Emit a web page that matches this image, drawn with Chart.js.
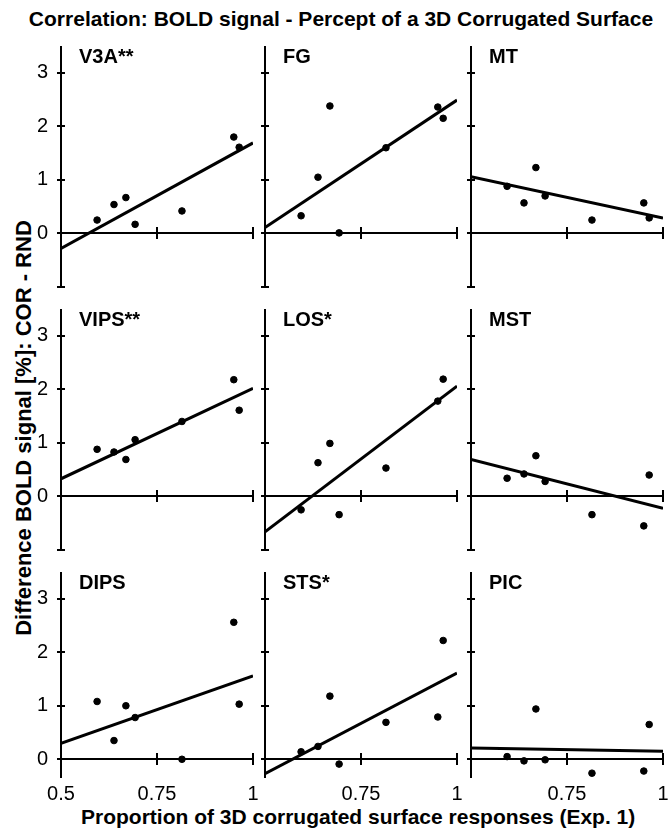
<!DOCTYPE html>
<html>
<head>
<meta charset="utf-8">
<title>Correlation: BOLD signal - Percept of a 3D Corrugated Surface</title>
<script src="https://cdn.jsdelivr.net/npm/chart.js@4.4.1/dist/chart.umd.min.js"></script>
<style>
  body { margin: 0; background: #fff; font-family: 'Liberation Sans', Arial, sans-serif; }
  #fig { position: relative; width: 670px; height: 831px; overflow: hidden; background: #fff; }
  .txt { position: absolute; font-weight: bold; line-height: 1; white-space: nowrap; color: #000; }
  canvas { position: absolute; }
</style>
</head>
<body>
<div id="fig">
  <div class="txt" style="font-size:21px; left:341px; top:8px; transform:translateX(-50%)">Correlation: BOLD signal - Percept of a 3D Corrugated Surface</div>
  <div class="txt" style="font-size:21px; left:81px; top:806px">Proportion of 3D corrugated surface responses (Exp. 1)</div>
  <div class="txt" style="font-size:22px; left:24px; top:428px; transform:translate(-50%,-50%) rotate(-90deg)">Difference BOLD signal [%]: COR - RND</div>
</div>
<script>
// proportion of 3D responses per subject (same for every region)
const proportions = [0.594, 0.638, 0.669, 0.693, 0.815, 0.950, 0.964];

const regions = ['V3A**', 'FG', 'MT', 'VIPS**', 'LOS*', 'MST', 'DIPS', 'STS*', 'PIC'];

// BOLD difference (COR - RND) per subject, in the order of proportions
const v3a  = [0.25, 0.54, 0.67, 0.17, 0.42, 1.80, 1.61];
const fg   = [0.33, 1.05, 2.38, 0.01, 1.60, 2.36, 2.15];
const mt   = [0.88, 0.57, 1.23, 0.70, 0.25, 0.57, 0.29];
const vips = [0.88, 0.83, 0.69, 1.06, 1.40, 2.18, 1.61];
const los  = [-0.25, 0.63, 0.99, -0.34, 0.53, 1.78, 2.19];
const mst  = [0.34, 0.42, 0.76, 0.28, -0.34, -0.55, 0.40];
const dips = [1.08, 0.35, 1.00, 0.78, 0.00, 2.56, 1.03];
const sts  = [0.14, 0.24, 1.18, -0.09, 0.69, 0.79, 2.22];
const pic  = [0.05, -0.03, 0.94, -0.01, -0.26, -0.22, 0.65];
const boldValues = [v3a, fg, mt, vips, los, mst, dips, sts, pic];

// regression line: value at x = 0.5 and at x = 1
const fitStart = [-0.28, 0.11, 1.06, 0.33, -0.66, 0.69, 0.30, -0.27, 0.21];
const fitEnd   = [1.69, 2.49, 0.29, 2.02, 2.06, -0.22, 1.56, 1.61, 0.15];

const xTicks = [0.5, 0.75, 1];
const yTicks = [0, 1, 2, 3];
const yBottom = [-1, -1, -0.35]; // per row
const yTop = 3.5;

// layout of the 3x3 grid (pixels)
const colX = [61, 265, 471];
const rowTop = [46, 309, 572];
const rowH = [241, 241, 206];
const plotW = 192;
const PAD = 12, LEFT = 50, BOTTOM = 35;
const FONT = "'Liberation Sans', Arial, sans-serif";

// axes cross at x = 0.5 / y = 0, with ticks on both sides of the line
const crossAxes = {
  id: 'crossAxes',
  afterDatasetsDraw(chart) {
    const { ctx, scales: { x, y } } = chart;
    const px = v => Math.round(x.getPixelForValue(v));
    const py = v => Math.round(y.getPixelForValue(v));
    const x0 = px(0.5), x1 = px(1), y0 = py(0);
    ctx.save();
    ctx.strokeStyle = '#000';
    ctx.lineWidth = 2;
    ctx.lineCap = 'butt';
    ctx.beginPath();
    ctx.moveTo(x0, py(y.max));
    ctx.lineTo(x0, py(y.min));
    ctx.moveTo(x0 - 1, y0);
    ctx.lineTo(x1, y0);
    const marks = yTicks.concat(y.min <= -1 ? [-1] : []);
    marks.forEach(v => {
      ctx.moveTo(x0 - 4, py(v));
      ctx.lineTo(x0 + 4, py(v));
    });
    xTicks.filter(v => v > 0.5).forEach(v => {
      ctx.moveTo(px(v), y0 - 6);
      ctx.lineTo(px(v), y0 + 6);
    });
    ctx.stroke();
    ctx.restore();
  }
};

const fig = document.getElementById('fig');

regions.forEach((name, i) => {
  const row = Math.floor(i / 3), col = i % 3;
  const h = rowH[row];

  const canvas = document.createElement('canvas');
  canvas.width = LEFT + plotW + PAD;
  canvas.height = PAD + h + BOTTOM;
  canvas.style.left = (colX[col] - LEFT) + 'px';
  canvas.style.top = (rowTop[row] - PAD) + 'px';
  fig.appendChild(canvas);

  const label = document.createElement('div');
  label.className = 'txt';
  label.style.fontSize = '20px';
  label.style.left = (colX[col] + 18) + 'px';
  label.style.top = rowTop[row] + 'px';
  label.textContent = name;
  fig.appendChild(label);

  const points = proportions.map((p, k) => ({ x: p, y: boldValues[i][k] }));

  new Chart(canvas.getContext('2d'), {
    type: 'scatter',
    data: {
      datasets: [
        {
          type: 'line',
          data: [{ x: 0.5, y: fitStart[i] }, { x: 1, y: fitEnd[i] }],
          borderColor: '#000',
          borderWidth: 3,
          pointRadius: 0,
          fill: false,
        },
        {
          data: points,
          backgroundColor: '#000',
          borderColor: '#000',
          pointRadius: 3.3,
          pointHoverRadius: 3.3,
        },
      ],
    },
    options: {
      responsive: false,
      animation: false,
      events: [],
      layout: { padding: { left: 0, top: PAD, right: PAD, bottom: 0 } },
      plugins: { legend: { display: false }, tooltip: { enabled: false } },
      scales: {
        x: {
          type: 'linear',
          min: 0.5,
          max: 1,
          afterBuildTicks: s => { s.ticks = xTicks.map(v => ({ value: v })); },
          afterFit: s => {
            s.height = BOTTOM;
            s.paddingLeft = s.paddingRight = s.paddingTop = s.paddingBottom = 0;
          },
          grid: { display: false, drawTicks: false },
          border: { display: false },
          ticks: {
            display: row === 2,
            padding: 4,
            maxRotation: 0,
            autoSkip: false,
            color: '#000',
            font: { size: 20, family: FONT },
            callback: v => (col > 0 && v === 0.5) ? '' : String(v),
          },
        },
        y: {
          type: 'linear',
          min: yBottom[row],
          max: yTop,
          afterBuildTicks: s => { s.ticks = yTicks.map(v => ({ value: v })); },
          afterFit: s => {
            s.width = LEFT;
            s.paddingLeft = s.paddingRight = s.paddingTop = s.paddingBottom = 0;
          },
          grid: { display: false, drawTicks: false },
          border: { display: false },
          ticks: {
            display: col === 0,
            padding: 13,
            color: '#000',
            font: { size: 20, family: FONT },
            callback: v => String(v),
          },
        },
      },
    },
    plugins: [crossAxes],
  });
});
</script>
</body>
</html>
